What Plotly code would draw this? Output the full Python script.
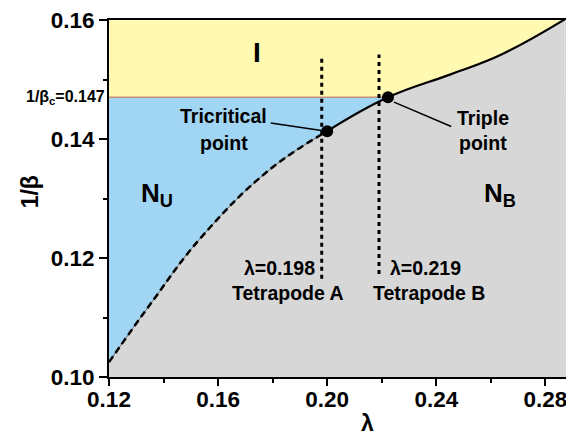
import plotly.graph_objects as go

# ---- data ----
lam_lo = [0.120, 0.1362, 0.1535, 0.1785, 0.200]
beta_lo = [0.1025, 0.1129, 0.1233, 0.1347, 0.1413]
beta_c = 0.147
lam_hi = [0.200, 0.2223, 0.2455, 0.2639, 0.2871]
beta_hi = [0.1413, beta_c, 0.1509, 0.1542, 0.1601]
tri_pt = (0.200, 0.1413)
triple_pt = (0.2223, beta_c)
lam_tetra = [0.198, 0.219]
tetra_top = [0.1537, 0.1542]
tetra_bot = [0.1165, 0.1173]
x_range = [0.12, 0.2905]
y_range = [0.10, 0.16]

YELLOW = "#FFF9B1"
BLUE = "#A0D5F3"
GRAY = "#D7D7D7"
FONT = "Liberation Sans"
SM = 1.2

fig = go.Figure()

# region backgrounds
fig.add_shape(type="rect", xref="x", yref="y", x0=x_range[0], x1=lam_hi[-1], y0=beta_c, y1=y_range[1],
              fillcolor=YELLOW, line_width=0, layer="below")
fig.add_shape(type="rect", xref="x", yref="y", x0=x_range[0], x1=triple_pt[0], y0=y_range[0], y1=beta_c,
              fillcolor=BLUE, line_width=0, layer="below")
# gray (N_B) below the whole phase boundary
fig.add_trace(go.Scatter(x=lam_lo + lam_hi[1:], y=beta_lo + beta_hi[1:], mode="lines",
                         line=dict(width=0, shape="spline", smoothing=SM), fill="tozeroy",
                         fillcolor=GRAY, hoverinfo="skip", showlegend=False))

# beta_c line
fig.add_trace(go.Scatter(x=[x_range[0], triple_pt[0]], y=[beta_c, beta_c], mode="lines",
                         line=dict(color="#C0907A", width=1.5), hoverinfo="skip", showlegend=False))

# lower boundary (dashed)
fig.add_trace(go.Scatter(x=lam_lo, y=beta_lo, mode="lines",
                         line=dict(color="#555555", width=0.8, shape="spline", smoothing=SM),
                         hoverinfo="skip", showlegend=False))
fig.add_trace(go.Scatter(x=lam_lo, y=beta_lo, mode="lines",
                         line=dict(color="black", width=2.5, dash="7px,4px", shape="spline", smoothing=SM),
                         hoverinfo="skip", showlegend=False))
# upper boundary (solid)
fig.add_trace(go.Scatter(x=lam_hi, y=beta_hi, mode="lines",
                         line=dict(color="black", width=2.2, shape="spline", smoothing=SM),
                         hoverinfo="skip", showlegend=False))

# tetrapode dotted lines
for lx, t, b in zip(lam_tetra, tetra_top, tetra_bot):
    fig.add_trace(go.Scatter(x=[lx, lx], y=[b, t], mode="lines",
                             line=dict(color="black", width=3, dash="4px,4px"),
                             hoverinfo="skip", showlegend=False))

# pointer lines
fig.add_trace(go.Scatter(x=[0.1793, 0.1985], y=[0.1427, 0.1414], mode="lines",
                         line=dict(color="black", width=1.5), hoverinfo="skip", showlegend=False))
fig.add_trace(go.Scatter(x=[0.2245, 0.2455], y=[0.1462, 0.1421], mode="lines",
                         line=dict(color="black", width=1.5), hoverinfo="skip", showlegend=False))

# special points
fig.add_trace(go.Scatter(x=[tri_pt[0], triple_pt[0]], y=[tri_pt[1], triple_pt[1]], mode="markers",
                         marker=dict(color="black", size=12), hoverinfo="skip", showlegend=False))

def ann(text, x, y, size, xanchor="center", **kw):
    fig.add_annotation(x=x, y=y, text=text, showarrow=False, xanchor=xanchor, yanchor="middle",
                       font=dict(family=FONT, size=size, color="black", weight="bold"), **kw)

ann("I", 0.1741, 0.1545, 28)
ann("N<sub>U</sub>", 0.1375, 0.1307, 26)
ann("N<sub>B</sub>", 0.2635, 0.1307, 26)
ann("Tricritical", 0.1620, 0.1439, 19.5)
ann("point", 0.1620, 0.1394, 19.5)
ann("Triple", 0.2573, 0.1436, 19.5)
ann("point", 0.2573, 0.1394, 19.5)
ann("λ=0.198", 0.1964, 0.1183, 19.5, xanchor="right")
ann("Tetrapode A", 0.1855, 0.1141, 19.5)
ann("λ=0.219", 0.2222, 0.1183, 19.5, xanchor="left")
ann("Tetrapode B", 0.2374, 0.1141, 19.5)

fig.add_annotation(xref="paper", yref="y", x=-0.004, y=beta_c, text="1/β<sub>c</sub>=0.147",
                   showarrow=False, xanchor="right", yanchor="middle",
                   font=dict(family=FONT, size=16, color="black", weight="bold"))
fig.add_annotation(xref="paper", yref="paper", x=-0.17, y=0.52, text="1/β", textangle=-90,
                   showarrow=False, xanchor="center", yanchor="middle",
                   font=dict(family=FONT, size=23, color="black", weight="bold"))
fig.add_annotation(xref="paper", yref="paper", x=0.555, y=-0.13, text="λ",
                   showarrow=False, xanchor="center", yanchor="middle",
                   font=dict(family=FONT, size=23, color="black", weight="bold"))

tickfont = dict(family=FONT, size=22.5, color="black", weight="bold")
fig.update_xaxes(range=x_range, tick0=0.12, dtick=0.04, tickformat=".2f", ticks="outside",
                 ticklen=7, tickwidth=2, tickcolor="black", showline=True, linecolor="black",
                 linewidth=2, mirror=True, showgrid=False, zeroline=False, tickfont=tickfont,
                 ticklabelstandoff=-6, ticklabeloverflow="allow",
                 minor=dict(dtick=0.02, tick0=0.12, ticks="outside", ticklen=4, tickwidth=2,
                            tickcolor="black", showgrid=False))
fig.update_yaxes(range=y_range, tick0=0.10, dtick=0.02, tickformat=".2f", ticks="outside",
                 ticklen=8, tickwidth=2, tickcolor="black", showline=True, linecolor="black",
                 linewidth=2, showgrid=False, zeroline=False, tickfont=tickfont,
                 ticklabeloverflow="allow",
                 minor=dict(dtick=0.01, tick0=0.10, ticks="outside", ticklen=4, tickwidth=2,
                            tickcolor="black", showgrid=False))

fig.update_layout(width=566, height=429, margin=dict(l=101, r=0, t=10, b=60),
                  plot_bgcolor=GRAY, paper_bgcolor="white", showlegend=False)

fig.write_html("out.html")
